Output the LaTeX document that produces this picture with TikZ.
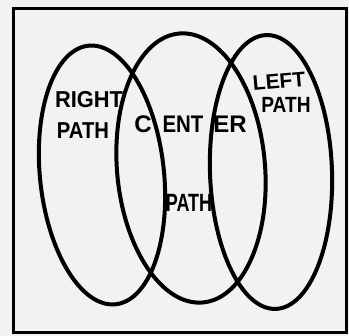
\documentclass[tikz,border=0pt]{standalone}
\usepackage{graphicx}
\usepackage{fontspec}
\setmainfont{Liberation Sans}
\begin{document}
\begin{tikzpicture}[x=1pt,y=-1pt,
  ring/.style={line width=4pt},
  frame/.style={line width=3pt},
  lbl/.style={inner sep=0pt,font=\bfseries\fontsize{23}{23}\selectfont}]
\useasboundingbox (0,0) rectangle (349,336);
\fill[black!5] (0,0) rectangle (349,336);
\draw[frame] (13,9) rectangle (346,333);
% ellipses
\draw[ring] (102,175) ellipse [x radius=62, y radius=130, rotate=6];
\draw[ring] (191,168) ellipse [x radius=74, y radius=135, rotate=5];
\draw[ring] (271,172) ellipse [x radius=61, y radius=137, rotate=2];
% labels
\node[lbl] (rt) at (89,100) {\scalebox{0.95}[1]{RIGHT}};
\node[lbl] (rp) at (83,131) {\scalebox{0.88}[1]{PATH}};
\node[lbl,font=\bfseries\fontsize{24}{24}\selectfont] (c) at (143,124) {C};
\node[lbl,font=\bfseries\fontsize{24}{24}\selectfont] (ent) at (183,124) {\scalebox{0.85}[1]{ENT}};
\node[lbl,font=\bfseries\fontsize{24}{24}\selectfont] (er) at (230,124) {ER};
\node[lbl,rotate=5,font=\bfseries\fontsize{21}{21}\selectfont] (lf) at (279,81) {LEFT};
\node[lbl,font=\bfseries\fontsize{22}{22}\selectfont] (lp) at (286,105) {\scalebox{0.87}[1]{PATH}};
\node[lbl,font=\bfseries\fontsize{25}{25}\selectfont] (cp) at (189,203) {\scalebox{0.72}[1]{PATH}};
\end{tikzpicture}
\end{document}
